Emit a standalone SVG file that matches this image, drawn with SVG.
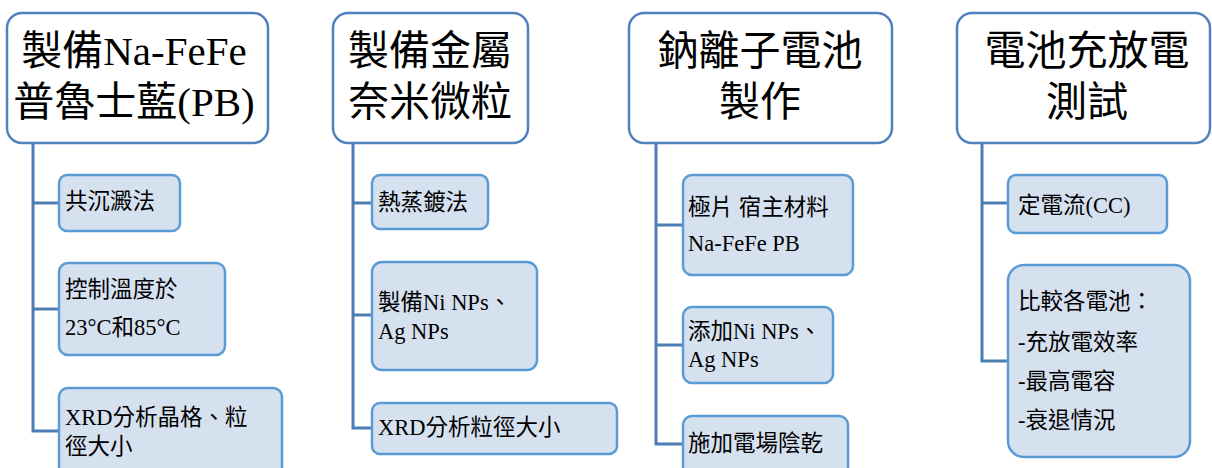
<svg xmlns="http://www.w3.org/2000/svg" width="1212" height="468" viewBox="0 0 1212 468">
<style>
.hdr{fill:#ffffff;stroke:#4f81bd;stroke-width:2.5}
.ch{fill:#d6e1ef;stroke:#5b9bd5;stroke-width:2.5}
.ht{font-family:"Liberation Serif","Noto Sans CJK TC",serif;font-size:41px;font-weight:400;fill:#000;text-anchor:middle}
.ct{font-family:"Liberation Serif","Noto Sans CJK TC",serif;font-size:22.5px;font-weight:400;fill:#000}
.cn{fill:none;stroke:#4a7eb4;stroke-width:3}
</style>
<rect width="1212" height="468" fill="#ffffff"/>
<g id="connectors">
<path class="cn" d="M33,143 V431 H59 M33,203 H59 M33,309 H59"/>
<path class="cn" d="M353,143 V428 H372 M353,203 H372 M353,315 H372"/>
<path class="cn" d="M656,143 V444 H683 M656,225 H683 M656,345 H683"/>
<path class="cn" d="M982,143 V361 H1008 M982,203 H1008"/>
</g>
<g id="h1"><rect class="hdr" x="7" y="13" width="261" height="130" rx="15"/>
<text class="ht" x="134" y="65">製備Na-FeFe</text><text class="ht" x="134" y="116">普魯士藍(PB)</text></g>
<g id="h2"><rect class="hdr" x="333" y="13" width="195" height="130" rx="15"/>
<text class="ht" x="430" y="65">製備金屬</text><text class="ht" x="430" y="116">奈米微粒</text></g>
<g id="h3"><rect class="hdr" x="629" y="13" width="263" height="130" rx="15"/>
<text class="ht" x="760" y="65">鈉離子電池</text><text class="ht" x="760" y="116">製作</text></g>
<g id="h4"><rect class="hdr" x="957" y="13" width="253" height="130" rx="15"/>
<text class="ht" x="1087" y="65">電池充放電</text><text class="ht" x="1087" y="116">測試</text></g>
<g id="c1a"><rect class="ch" x="59" y="175" width="121" height="56" rx="8"/><text class="ct" x="65" y="209">共沉澱法</text></g>
<g id="c1b"><rect class="ch" x="59" y="263" width="166" height="92" rx="9"/><text class="ct" x="65" y="297">控制溫度於</text><text class="ct" x="65" y="335">23°C和85°C</text></g>
<g id="c1c"><rect class="ch" x="59" y="388" width="223" height="95" rx="9"/><text class="ct" x="65" y="425">XRD分析晶格、粒</text><text class="ct" x="65" y="454">徑大小</text></g>
<g id="c2a"><rect class="ch" x="372" y="175" width="116" height="54" rx="8"/><text class="ct" x="378" y="210">熱蒸鍍法</text></g>
<g id="c2b"><rect class="ch" x="372" y="262" width="165" height="108" rx="10"/><text class="ct" x="378" y="310">製備Ni NPs、</text><text class="ct" x="378" y="339">Ag NPs</text></g>
<g id="c2c"><rect class="ch" x="372" y="403" width="245" height="51" rx="8"/><text class="ct" x="378" y="435">XRD分析粒徑大小</text></g>
<g id="c3a"><rect class="ch" x="683" y="175" width="170" height="100" rx="9"/><text class="ct" x="688" y="215">極片 宿主材料</text><text class="ct" x="688" y="251">Na-FeFe PB</text></g>
<g id="c3b"><rect class="ch" x="683" y="307" width="150" height="76" rx="9"/><text class="ct" x="688" y="339">添加Ni NPs、</text><text class="ct" x="688" y="367">Ag NPs</text></g>
<g id="c3c"><rect class="ch" x="683" y="416" width="165" height="70" rx="9"/><text class="ct" x="688" y="451">施加電場陰乾</text></g>
<g id="c4a"><rect class="ch" x="1008" y="175" width="159" height="58" rx="8"/><text class="ct" x="1018" y="213">定電流(CC)</text></g>
<g id="c4b"><rect class="ch" x="1008" y="265" width="182" height="192" rx="16"/><text class="ct" x="1018" y="309">比較各電池：</text><text class="ct" x="1018" y="350">-充放電效率</text><text class="ct" x="1018" y="389">-最高電容</text><text class="ct" x="1018" y="428">-衰退情況</text></g>
</svg>
